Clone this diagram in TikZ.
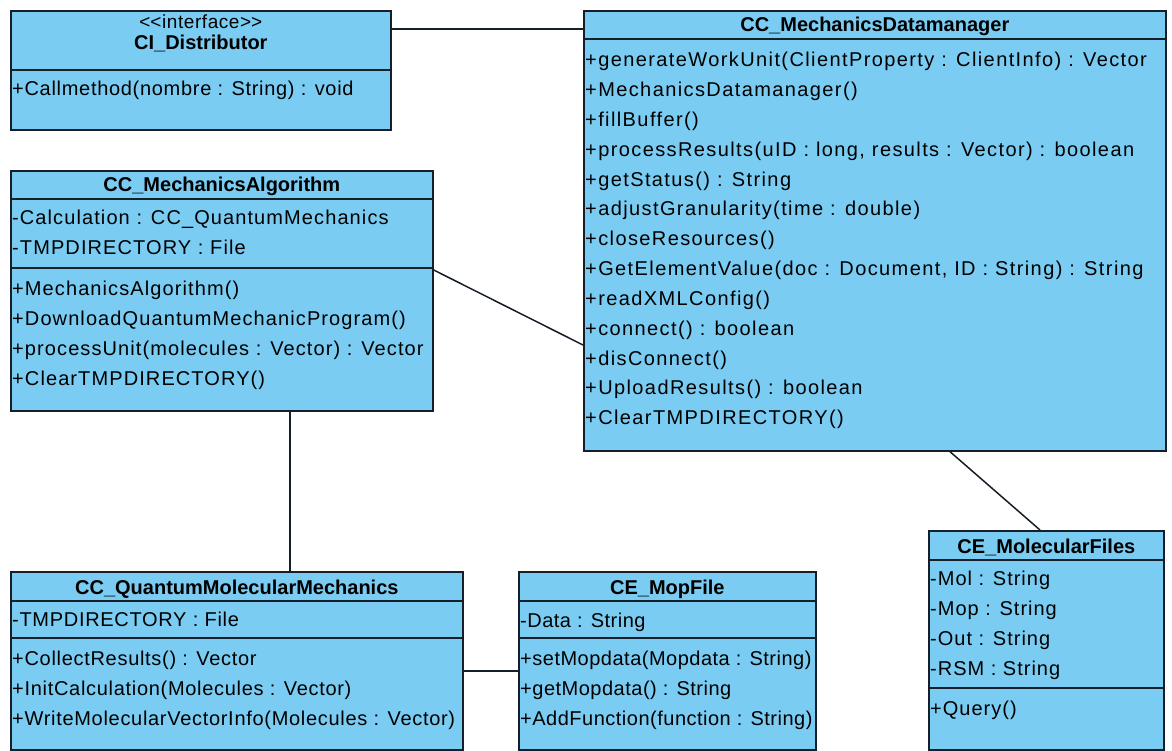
\documentclass[tikz,border=0pt]{standalone}
\usepackage{fontspec}
\setmainfont{Liberation Sans}
\usetikzlibrary{calc}

\definecolor{umlfill}{RGB}{122,204,242}
\definecolor{umlline}{RGB}{22,30,42}

\tikzset{
  classbox/.style={draw=umlline, line width=1.7pt, fill=umlfill, anchor=north west, inner sep=0pt},
  member/.style={anchor=base west, inner sep=0pt, font=\fontsize{20}{22}\selectfont\addfontfeature{LetterSpace=#1}},
  member/.default=2.5,
  classname/.style={anchor=base, inner sep=0pt, font=\fontsize{20}{22}\selectfont\bfseries},
  stereotype/.style={anchor=base, inner sep=0pt, font=\fontsize{19}{21}\selectfont\addfontfeature{LetterSpace=3}},
  divider/.style={draw=umlline, line width=1.5pt},
  assoc/.style={draw=umlline, line width=1.5pt},
}

\begin{document}
\begin{tikzpicture}[x=1pt,y=-1pt]
\fill[white] (0,0) rectangle (1172,751);
\path[use as bounding box] (0,0) rectangle (1172,751);

% ---------- CI_Distributor ----------
\node[classbox, minimum width=380pt, minimum height=119pt] (dist) at (10,10) {};
\node[stereotype] (dist-s) at ($(dist.north)+(0,19)$) {<\kern0pt<interface>\kern0pt>};
\node[classname] (dist-t) at ($(dist.north)+(0,40)$) {CI\_Distributor};
\draw[divider] ($(dist.north west)+(0,60)$) -- ($(dist.north east)+(0,60)$);
\node[member=3.5] (dist-o1) at ($(dist.north west)+(2,86)$) {+Callmethod(nombre : String) : void};

% ---------- CC_MechanicsDatamanager ----------
\node[classbox, minimum width=582pt, minimum height=440pt] (dm) at (583,10) {};
\node[classname] (dm-t) at ($(dm.north)+(0,22)$) {CC\_MechanicsDatamanager};
\draw[divider] ($(dm.north west)+(0,29)$) -- ($(dm.north east)+(0,29)$);
\foreach \txt [count=\i from 0] in {
  {+generateWorkUnit(ClientProperty : ClientInfo) : Vector},
  {+MechanicsDatamanager()},
  {+fillBuffer()},
  {+processResults(uID : long, results : Vector) : boolean},
  {+getStatus() : String},
  {+adjustGranularity(time : double)},
  {+closeResources()},
  {+GetElementValue(doc : Document, ID : String) : String},
  {+readXMLConfig()},
  {+connect() : boolean},
  {+disConnect()},
  {+UploadResults() : boolean},
  {+ClearTMPDIRECTORY()}}
  \node[member=7] (dm-o\i) at ($(dm.north west)+(2,57+29.8*\i)$) {\txt};

% ---------- CC_MechanicsAlgorithm ----------
\node[classbox, minimum width=422pt, minimum height=240pt] (alg) at (10,170) {};
\node[classname] (alg-t) at ($(alg.north)+(0,22)$) {CC\_MechanicsAlgorithm};
\draw[divider] ($(alg.north west)+(0,29)$) -- ($(alg.north east)+(0,29)$);
\draw[divider] ($(alg.north west)+(0,98)$) -- ($(alg.north east)+(0,98)$);
\foreach \txt [count=\i from 0] in {
  {-Calculation : CC\_QuantumMechanics},
  {-TMPDIRECTORY : File}}
  \node[member=5.5] (alg-a\i) at ($(alg.north west)+(2,55+30*\i)$) {\txt};
\foreach \txt [count=\i from 0] in {
  {+MechanicsAlgorithm()},
  {+DownloadQuantumMechanicProgram()},
  {+processUnit(molecules : Vector) : Vector},
  {+ClearTMPDIRECTORY()}}
  \node[member=5.5] (alg-o\i) at ($(alg.north west)+(2,125+30*\i)$) {\txt};

% ---------- CC_QuantumMolecularMechanics ----------
\node[classbox, minimum width=452pt, minimum height=178pt] (qmm) at (10,571) {};
\node[classname] (qmm-t) at ($(qmm.north)+(0,23)$) {CC\_QuantumMolecularMechanics};
\draw[divider] ($(qmm.north west)+(0,30)$) -- ($(qmm.north east)+(0,30)$);
\draw[divider] ($(qmm.north west)+(0,67)$) -- ($(qmm.north east)+(0,67)$);
\node[member=3.5] (qmm-a0) at ($(qmm.north west)+(2,55)$) {-TMPDIRECTORY : File};
\foreach \txt [count=\i from 0] in {
  {+CollectResults() : Vector},
  {+InitCalculation(Molecules : Vector)},
  {+WriteMolecularVectorInfo(Molecules : Vector)}}
  \node[member=3.5] (qmm-o\i) at ($(qmm.north west)+(2,94+30*\i)$) {\txt};

% ---------- CE_MopFile ----------
\node[classbox, minimum width=297pt, minimum height=178pt] (mop) at (518,571) {};
\node[classname] (mop-t) at ($(mop.north)+(0,23)$) {CE\_MopFile};
\draw[divider] ($(mop.north west)+(0,30)$) -- ($(mop.north east)+(0,30)$);
\draw[divider] ($(mop.north west)+(0,67)$) -- ($(mop.north east)+(0,67)$);
\node[member] (mop-a0) at ($(mop.north west)+(2,56)$) {-Data : String};
\foreach \txt [count=\i from 0] in {
  {+setMopdata(Mopdata : String)},
  {+getMopdata() : String},
  {+AddFunction(function : String)}}
  \node[member] (mop-o\i) at ($(mop.north west)+(2,94+30*\i)$) {\txt};

% ---------- CE_MolecularFiles ----------
\node[classbox, minimum width=235pt, minimum height=219pt] (mf) at (928,530) {};
\node[classname] (mf-t) at ($(mf.north)+(0,23)$) {CE\_MolecularFiles};
\draw[divider] ($(mf.north west)+(0,30)$) -- ($(mf.north east)+(0,30)$);
\draw[divider] ($(mf.north west)+(0,158)$) -- ($(mf.north east)+(0,158)$);
\foreach \txt [count=\i from 0] in {
  {-Mol : String},
  {-Mop : String},
  {-Out : String},
  {-RSM : String}}
  \node[member=5] (mf-a\i) at ($(mf.north west)+(2,55+30*\i)$) {\txt};
\node[member=5] (mf-o0) at ($(mf.north west)+(2,185)$) {+Query()};

% ---------- associations ----------
\draw[assoc] ($(dist.north east)+(0,19)$) -- ($(dm.north west)+(0,19)$);
\draw[assoc] ($(alg.north east)+(0,100)$) -- ($(dm.north west)+(0,335)$);
\draw[assoc] ($(alg.south west)+(280,0)$) -- ($(qmm.north west)+(280,0)$);
\draw[assoc] ($(qmm.north east)+(0,100)$) -- ($(mop.north west)+(0,100)$);
\draw[assoc] ($(dm.south west)+(367,0)$) -- ($(mf.north west)+(112,0)$);
\end{tikzpicture}
\end{document}
